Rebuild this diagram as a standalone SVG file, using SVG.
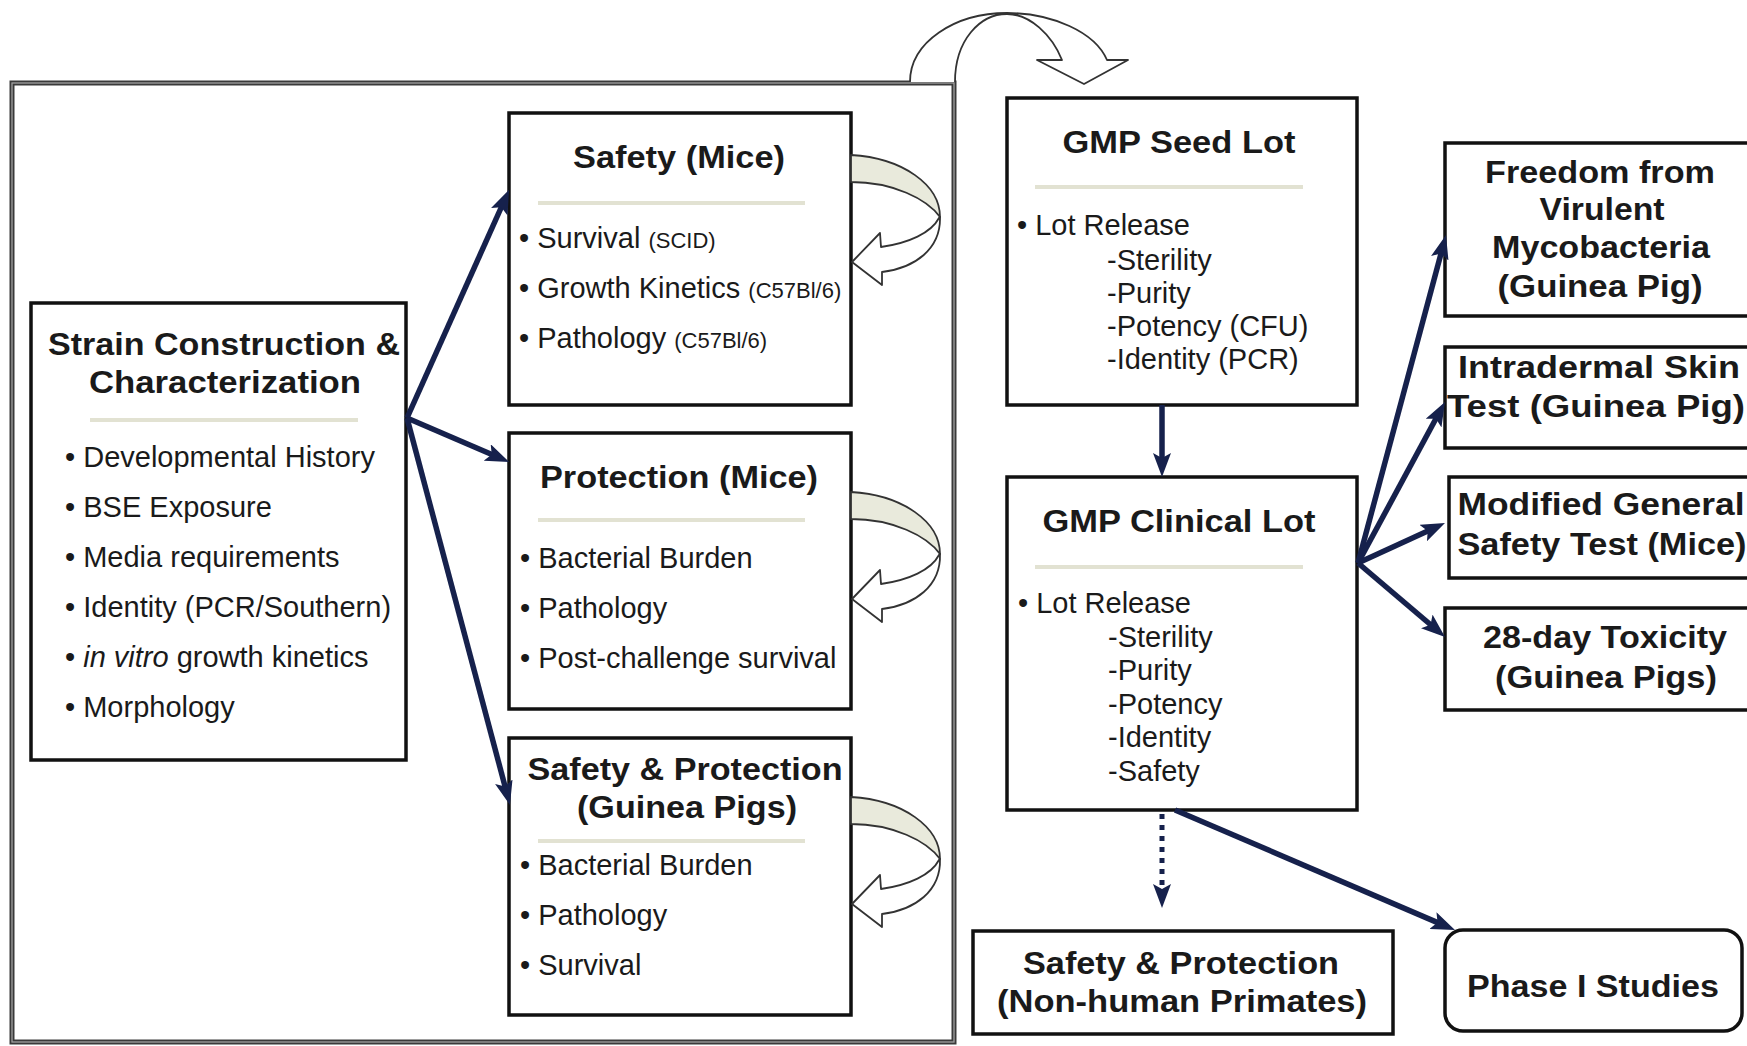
<svg xmlns="http://www.w3.org/2000/svg" width="1747" height="1046" viewBox="0 0 1747 1046">
<style>
text{font-family:"Liberation Sans",Arial,sans-serif;fill:#1a1a1a}
.t{font-weight:bold;font-size:31px;text-anchor:middle}
.b{font-size:29px}
.s{font-size:22px}
.box{fill:#fff;stroke:#111;stroke-width:3.5}
.sep{stroke:#e2e2d2;stroke-width:4}
.ar{stroke:#16214c;stroke-width:5.5;fill:none;marker-end:url(#ah)}
.dot{stroke:#16214c;stroke-width:5;fill:none;stroke-dasharray:5 6;marker-end:url(#ah)}
.cv{stroke:#333;stroke-width:1.8;stroke-linejoin:round}
</style>
<defs>
<marker id="ah" viewBox="0 0 24 18" markerWidth="24" markerHeight="18" refX="14" refY="9" orient="auto" markerUnits="userSpaceOnUse">
<path d="M0,0 L24,9 L0,18 L5,9 Z" fill="#16214c"/>
</marker>
<g id="uturn">
<path class="cv" fill="#e9eadc" d="M0,0 C52,3 89,30 89,62 C76,44 42,27 0,27 Z"/>
<path class="cv" fill="#fff" d="M89,62 C90,94 64,113 31,117 L31,130 L1,107 L29,78 L30,92 C58,88 80,78 88,63 Z"/>
</g>
</defs>
<rect width="1747" height="1046" fill="#fff"/>

<g id="frame">
<rect x="12" y="83" width="942" height="959" fill="none" stroke="#3a3a3a" stroke-width="5"/>
<rect x="12" y="83" width="942" height="959" fill="none" stroke="#a0a0a0" stroke-width="1.3"/>
</g>

<g id="top-arrow">
<path class="cv" fill="#fff" d="M910,82 C910,42 955,13 1007,13 C1052,13 1095,32 1107,60 L1128,60 L1084,84 L1037,60 L1062,60 C1052,35 1030,14 1007,14 C980,14 955,40 955,82"/>
</g>

<g id="strain">
<rect class="box" x="31" y="303" width="375" height="457"/>
<text class="t" x="224" y="355" textLength="352" lengthAdjust="spacingAndGlyphs">Strain Construction &amp;</text>
<text class="t" x="225" y="393" textLength="272" lengthAdjust="spacingAndGlyphs">Characterization</text>
<line class="sep" x1="90" y1="420" x2="358" y2="420"/>
<text class="b" x="65" y="467">• Developmental History</text>
<text class="b" x="65" y="517">• BSE Exposure</text>
<text class="b" x="65" y="567">• Media requirements</text>
<text class="b" x="65" y="617">• Identity (PCR/Southern)</text>
<text class="b" x="65" y="667">• <tspan font-style="italic">in vitro</tspan> growth kinetics</text>
<text class="b" x="65" y="717">• Morphology</text>
</g>

<g id="safety-mice">
<rect class="box" x="509" y="113" width="342" height="292"/>
<text class="t" x="679" y="168" textLength="212" lengthAdjust="spacingAndGlyphs">Safety (Mice)</text>
<line class="sep" x1="538" y1="203" x2="805" y2="203"/>
<text class="b" x="519" y="248">• Survival <tspan class="s">(SCID)</tspan></text>
<text class="b" x="519" y="298">• Growth Kinetics <tspan class="s">(C57Bl/6)</tspan></text>
<text class="b" x="519" y="348">• Pathology <tspan class="s">(C57Bl/6)</tspan></text>
</g>

<g id="protection-mice">
<rect class="box" x="509" y="433" width="342" height="276"/>
<text class="t" x="679" y="488" textLength="278" lengthAdjust="spacingAndGlyphs">Protection (Mice)</text>
<line class="sep" x1="538" y1="520" x2="805" y2="520"/>
<text class="b" x="520" y="568">• Bacterial Burden</text>
<text class="b" x="520" y="618">• Pathology</text>
<text class="b" x="520" y="668">• Post-challenge survival</text>
</g>

<g id="safety-protection-gp">
<rect class="box" x="509" y="738" width="342" height="277"/>
<text class="t" x="685" y="780" textLength="315" lengthAdjust="spacingAndGlyphs">Safety &amp; Protection</text>
<text class="t" x="687" y="818" textLength="220" lengthAdjust="spacingAndGlyphs">(Guinea Pigs)</text>
<line class="sep" x1="538" y1="841" x2="805" y2="841"/>
<text class="b" x="520" y="875">• Bacterial Burden</text>
<text class="b" x="520" y="925">• Pathology</text>
<text class="b" x="520" y="975">• Survival</text>
</g>

<g id="loops">
<use href="#uturn" transform="translate(851,155)"/>
<use href="#uturn" transform="translate(851,492)"/>
<use href="#uturn" transform="translate(851,797)"/>
</g>

<g id="seed-lot">
<rect class="box" x="1007" y="98" width="350" height="307"/>
<text class="t" x="1179" y="153" textLength="233" lengthAdjust="spacingAndGlyphs">GMP Seed Lot</text>
<line class="sep" x1="1035" y1="187" x2="1303" y2="187"/>
<text class="b" x="1017" y="235">• Lot Release</text>
<text class="b" x="1107" y="270">-Sterility</text>
<text class="b" x="1107" y="303">-Purity</text>
<text class="b" x="1107" y="336">-Potency (CFU)</text>
<text class="b" x="1107" y="369">-Identity (PCR)</text>
</g>

<g id="clinical-lot">
<rect class="box" x="1007" y="477" width="350" height="333"/>
<text class="t" x="1179" y="532" textLength="273" lengthAdjust="spacingAndGlyphs">GMP Clinical Lot</text>
<line class="sep" x1="1035" y1="567" x2="1303" y2="567"/>
<text class="b" x="1018" y="613">• Lot Release</text>
<text class="b" x="1108" y="647">-Sterility</text>
<text class="b" x="1108" y="680">-Purity</text>
<text class="b" x="1108" y="714">-Potency</text>
<text class="b" x="1108" y="747">-Identity</text>
<text class="b" x="1108" y="781">-Safety</text>
</g>

<g id="freedom">
<rect class="box" x="1445" y="143" width="320" height="173"/>
<text class="t" x="1600" y="183" textLength="230" lengthAdjust="spacingAndGlyphs">Freedom from</text>
<text class="t" x="1602" y="220" textLength="125" lengthAdjust="spacingAndGlyphs">Virulent</text>
<text class="t" x="1601" y="258" textLength="218" lengthAdjust="spacingAndGlyphs">Mycobacteria</text>
<text class="t" x="1600" y="297" textLength="205" lengthAdjust="spacingAndGlyphs">(Guinea Pig)</text>
</g>

<g id="intradermal">
<rect class="box" x="1445" y="347" width="320" height="101"/>
<text class="t" x="1599" y="378" textLength="282" lengthAdjust="spacingAndGlyphs">Intradermal Skin</text>
<text class="t" x="1596" y="417" textLength="298" lengthAdjust="spacingAndGlyphs">Test (Guinea Pig)</text>
</g>

<g id="modified-general">
<rect class="box" x="1449" y="477" width="316" height="101"/>
<text class="t" x="1601" y="515" textLength="287" lengthAdjust="spacingAndGlyphs">Modified General</text>
<text class="t" x="1602" y="555" textLength="289" lengthAdjust="spacingAndGlyphs">Safety Test (Mice)</text>
</g>

<g id="toxicity">
<rect class="box" x="1445" y="608" width="320" height="102"/>
<text class="t" x="1605" y="648" textLength="244" lengthAdjust="spacingAndGlyphs">28-day Toxicity</text>
<text class="t" x="1606" y="688" textLength="222" lengthAdjust="spacingAndGlyphs">(Guinea Pigs)</text>
</g>

<g id="nhp">
<rect class="box" x="973" y="931" width="420" height="103"/>
<text class="t" x="1181" y="974" textLength="316" lengthAdjust="spacingAndGlyphs">Safety &amp; Protection</text>
<text class="t" x="1182" y="1012" textLength="370" lengthAdjust="spacingAndGlyphs">(Non-human Primates)</text>
</g>

<g id="phase1">
<rect class="box" x="1445" y="930" width="297" height="101" rx="18"/>
<text class="t" x="1593" y="997" textLength="252" lengthAdjust="spacingAndGlyphs">Phase I Studies</text>
</g>

<g id="connectors">
<path class="ar" d="M407,418 L505,199"/>
<path class="ar" d="M407,418 L500,458"/>
<path class="ar" d="M407,418 L507.4,795.3"/>
<path class="ar" d="M1162,405 L1162,467"/>
<path class="ar" d="M1358,563 L1443.4,244.7"/>
<path class="ar" d="M1358,563 L1440.2,410.8"/>
<path class="ar" d="M1358,563 L1435.9,527.2"/>
<path class="ar" d="M1358,563 L1437.4,630.5"/>
<path class="ar" d="M1175,810 L1445.8,926.1"/>
<path class="dot" d="M1162,814 L1162,898"/>
</g>
</svg>
